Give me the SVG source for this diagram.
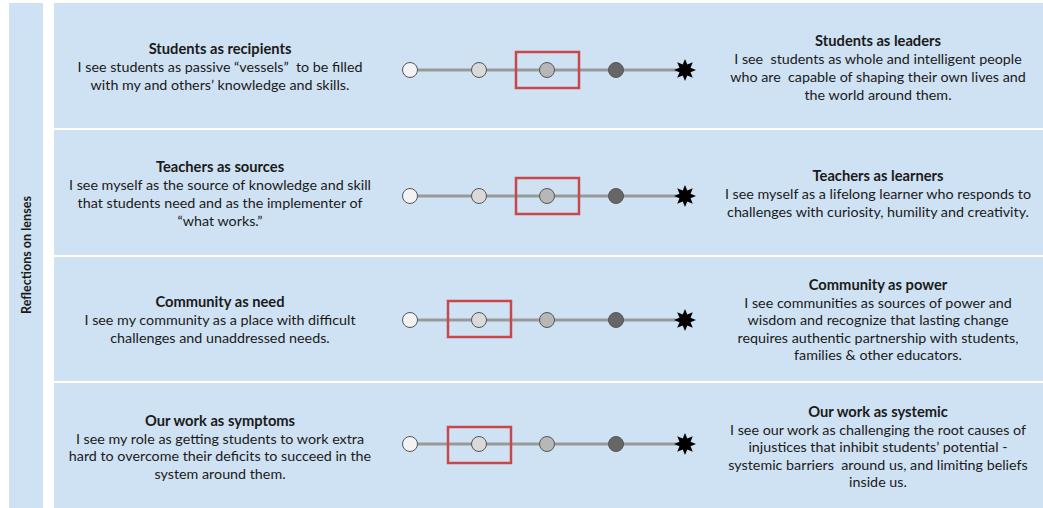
<svg xmlns="http://www.w3.org/2000/svg" width="1043" height="508" viewBox="0 0 1043 508">
<style>
.bg{fill:#cfe2f3}
text{font-family:Lato,"Open Sans","Liberation Sans",sans-serif;font-size:14.3px;fill:#1a1a1a;text-anchor:middle;white-space:pre}
.t{font-weight:bold;font-size:14.7px}
.side{font-weight:bold;font-size:12.6px}
.line{stroke:#999;stroke-width:3}
.c{stroke:#555;stroke-width:1}
.w{fill:#f3f3f3}.l{fill:#d9d9d9}.m{fill:#b7b7b7}.d{fill:#666}
.sel{fill:none;stroke:#c9474b;stroke-width:2.5}
</style>
<defs>
<g id="scale">
<line class="line" x1="410" y1="0" x2="685" y2="0"/>
<circle class="c w" cx="410" cy="0" r="7.5"/>
<circle class="c l" cx="479" cy="0" r="7.5"/>
<circle class="c m" cx="547" cy="0" r="7.5"/>
<circle class="c d" cx="616" cy="0" r="7.5"/>
<polygon fill="#000" points="685,-11 687.3,-5.5 692.8,-7.8 690.5,-2.3 696,0 690.5,2.3 692.8,7.8 687.3,5.5 685,11 682.7,5.5 677.2,7.8 679.5,2.3 674,0 679.5,-2.3 677.2,-7.8 682.7,-5.5"/>
<circle fill="#000" cx="685" cy="0" r="5.5"/>
</g>
</defs>
<rect width="1043" height="508" fill="#fff"/>
<g id="side">
<rect class="bg" x="9" y="3" width="34" height="505"/>
<text class="side" transform="translate(31,255) rotate(-90)">Reflections on lenses</text>
</g>
<g id="row1">
<rect class="bg" x="54" y="3" width="989" height="125"/>
<text x="220" y="54"><tspan class="t">Students as recipients</tspan><tspan x="220" dy="18">I see students as passive “vessels”  to be filled</tspan><tspan x="220" dy="18">with my and others’ knowledge and skills.</tspan></text>
<text x="878" y="46"><tspan class="t">Students as leaders</tspan><tspan x="878" dy="18">I see  students as whole and intelligent people</tspan><tspan x="878" dy="18">who are  capable of shaping their own lives and</tspan><tspan x="878" dy="18">the world around them.</tspan></text>
<use href="#scale" transform="translate(0,70)"/>
<rect class="sel" x="516" y="52" width="63" height="36"/>
</g>
<g id="row2">
<rect class="bg" x="54" y="130" width="989" height="125"/>
<text x="220" y="172"><tspan class="t">Teachers as sources</tspan><tspan x="220" dy="18">I see myself as the source of knowledge and skill</tspan><tspan x="220" dy="18">that students need and as the implementer of</tspan><tspan x="220" dy="18">“what works.”</tspan></text>
<text x="878" y="181"><tspan class="t">Teachers as learners</tspan><tspan x="878" dy="18">I see myself as a lifelong learner who responds to</tspan><tspan x="878" dy="18">challenges with curiosity, humility and creativity.</tspan></text>
<use href="#scale" transform="translate(0,196)"/>
<rect class="sel" x="516" y="178" width="63" height="36"/>
</g>
<g id="row3">
<rect class="bg" x="54" y="257" width="989" height="124"/>
<text x="220" y="307"><tspan class="t">Community as need</tspan><tspan x="220" dy="18">I see my community as a place with difficult</tspan><tspan x="220" dy="18">challenges and unaddressed needs.</tspan></text>
<text x="878" y="290"><tspan class="t">Community as power</tspan><tspan x="878" dy="17.5">I see communities as sources of power and</tspan><tspan x="878" dy="17.5">wisdom and recognize that lasting change</tspan><tspan x="878" dy="17.5">requires authentic partnership with students,</tspan><tspan x="878" dy="17.5">families &amp; other educators.</tspan></text>
<use href="#scale" transform="translate(0,320)"/>
<rect class="sel" x="448" y="301" width="63" height="36"/>
</g>
<g id="row4">
<rect class="bg" x="54" y="383" width="989" height="125"/>
<text x="220" y="426"><tspan class="t">Our work as symptoms</tspan><tspan x="220" dy="17.5">I see my role as getting students to work extra</tspan><tspan x="220" dy="17.5">hard to overcome their deficits to succeed in the</tspan><tspan x="220" dy="17.5">system around them.</tspan></text>
<text x="878" y="417"><tspan class="t">Our work as systemic</tspan><tspan x="878" dy="17.5">I see our work as challenging the root causes of</tspan><tspan x="878" dy="17.5">injustices that inhibit students’ potential -</tspan><tspan x="878" dy="17.5">systemic barriers  around us, and limiting beliefs</tspan><tspan x="878" dy="17.5">inside us.</tspan></text>
<use href="#scale" transform="translate(0,444)"/>
<rect class="sel" x="448" y="427" width="63" height="36"/>
</g>
</svg>
